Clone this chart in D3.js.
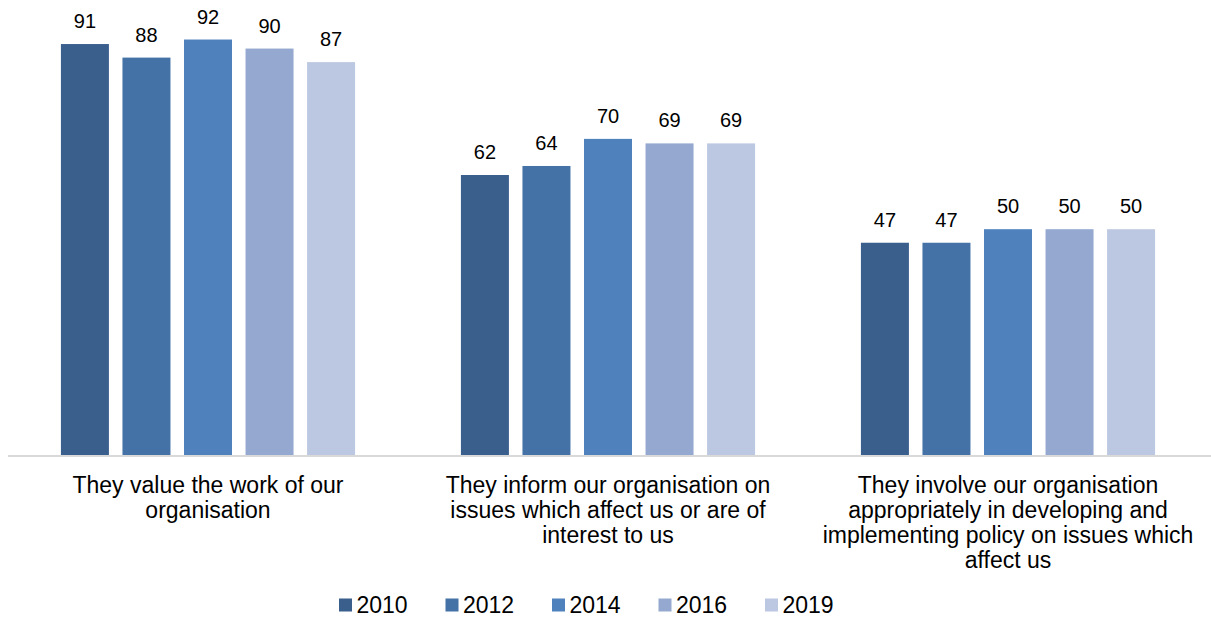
<!DOCTYPE html>
<html>
<head>
<meta charset="utf-8">
<script src="https://cdn.jsdelivr.net/npm/d3@7"></script>
<style>
  html, body { margin: 0; padding: 0; background: #fff; }
  svg { display: block; font-family: "Liberation Sans", Arial, sans-serif; }
</style>
</head>
<body>
<svg id="chart" width="1211" height="619"></svg>
<script>
// Survey statements (category axis), each wrapped onto display lines
const categories = [
  "They value the work of our organisation",
  "They inform our organisation on issues which affect us or are of interest to us",
  "They involve our organisation appropriately in developing and implementing policy on issues which affect us"
];
const categoryLines = [
  ["They value the work of our", "organisation"],
  ["They inform our organisation on", "issues which affect us or are of", "interest to us"],
  ["They involve our organisation", "appropriately in developing and", "implementing policy on issues which", "affect us"]
];
const years = ["2010", "2012", "2014", "2016", "2019"];
const colors = ["#3a5f8c", "#4472a7", "#4f81bd", "#95a9d0", "#bcc8e1"];

// Percentage agreeing, one array per survey year
const v2010 = [91, 62, 47];
const v2012 = [88, 64, 47];
const v2014 = [92, 70, 50];
const v2016 = [90, 69, 50];
const v2019 = [87, 69, 50];
const seriesValues = [v2010, v2012, v2014, v2016, v2019];

const svg = d3.select("#chart");
const baseY = 455;

const x0 = d3.scaleBand().domain(categories).range([8, 1208]).paddingInner(0).paddingOuter(0);
const x1 = d3.scaleBand().domain(years).range([0, x0.bandwidth()]).paddingInner(0.22).paddingOuter(0.86);
const y = d3.scaleLinear().domain([0, 100]).range([baseY, 3.4]);

const rows = [];
categories.forEach((c, ci) => {
  years.forEach((yr, yi) => rows.push({ cat: c, year: yr, yi, value: seriesValues[yi][ci] }));
});

// Bars
svg.append("g").selectAll("rect").data(rows).join("rect")
  .attr("x", d => x0(d.cat) + x1(d.year))
  .attr("y", d => y(d.value))
  .attr("width", x1.bandwidth())
  .attr("height", d => baseY - y(d.value))
  .attr("fill", d => colors[d.yi]);

// Value labels above bars
svg.append("g").selectAll("text").data(rows).join("text")
  .attr("x", d => x0(d.cat) + x1(d.year) + x1.bandwidth() / 2)
  .attr("y", d => y(d.value) - 16)
  .attr("text-anchor", "middle")
  .attr("font-size", 20)
  .attr("fill", "#000")
  .text(d => d.value);

// Category axis line
svg.append("line")
  .attr("x1", 8).attr("x2", 1211)
  .attr("y1", baseY + 1).attr("y2", baseY + 1)
  .attr("stroke", "#d9d9d9").attr("stroke-width", 2);

// Category labels
const catG = svg.append("g").selectAll("text").data(categories).join("text")
  .attr("text-anchor", "middle")
  .attr("font-size", 23)
  .attr("fill", "#000");
catG.each(function (c, i) {
  const t = d3.select(this);
  categoryLines[i].forEach((line, li) => {
    t.append("tspan")
      .attr("x", x0(c) + x0.bandwidth() / 2)
      .attr("y", 493 + li * 25)
      .text(line);
  });
});

// Legend
const legend = svg.append("g").selectAll("g").data(years).join("g")
  .attr("transform", (d, i) => `translate(${339 + i * 106.5},0)`);
legend.append("rect")
  .attr("x", 0).attr("y", 598.5).attr("width", 13).attr("height", 13)
  .attr("fill", (d, i) => colors[i]);
legend.append("text")
  .attr("x", 17.5).attr("y", 613)
  .attr("font-size", 23)
  .attr("fill", "#000")
  .text(d => d);
</script>
</body>
</html>
